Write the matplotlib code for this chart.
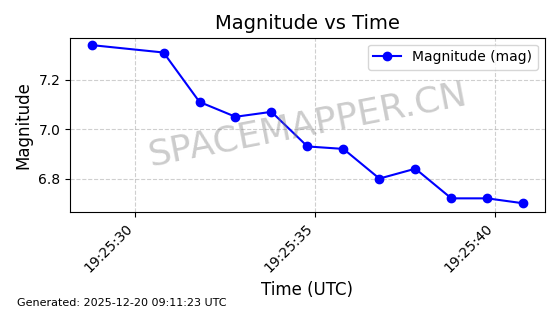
import numpy as np
import pandas as pd
import matplotlib
matplotlib.use('Agg')
import matplotlib.pyplot as plt
import matplotlib.dates as mdates

# data
times = ['19:25:28.78', '19:25:30.78', '19:25:31.78', '19:25:32.78', '19:25:33.78', '19:25:34.78',
         '19:25:35.78', '19:25:36.78', '19:25:37.78', '19:25:38.78', '19:25:39.78', '19:25:40.78']
magnitudes = [7.34, 7.31, 7.11, 7.05, 7.07, 6.93, 6.92, 6.80, 6.84, 6.72, 6.72, 6.70]

t = pd.to_datetime(['2025-12-20 ' + s for s in times])

fig = plt.figure(figsize=(5.6, 3.14), dpi=100)
ax = fig.add_axes([0.125, 0.325, 0.848, 0.555])
ax.plot(t, magnitudes, color='blue', marker='o', markersize=6, linewidth=1.5, label='Magnitude (mag)')

ax.set_title('Magnitude vs Time', fontsize=14)
ax.set_xlabel('Time (UTC)', fontsize=12)
ax.set_ylabel('Magnitude', fontsize=12)
ax.set_ylim(6.665, 7.37)
ax.set_yticks([6.8, 7.0, 7.2])
ax.xaxis.set_major_locator(mdates.SecondLocator(bysecond=[30, 35, 40]))
ax.xaxis.set_major_formatter(mdates.DateFormatter('%H:%M:%S'))
plt.setp(ax.get_xticklabels(), rotation=45, ha='right')
ax.grid(True, linestyle='--', alpha=0.6)
ax.legend(loc='upper right')

# watermark
ax.text(0.5, 0.5, 'SPACEMAPPER.CN', transform=ax.transAxes, fontsize=26, color='gray',
        alpha=0.4, rotation=11, ha='center', va='center')
fig.text(0.03, 0.025, 'Generated: 2025-12-20 09:11:23 UTC', fontsize=8)

fig.savefig('out.png', dpi=100)
